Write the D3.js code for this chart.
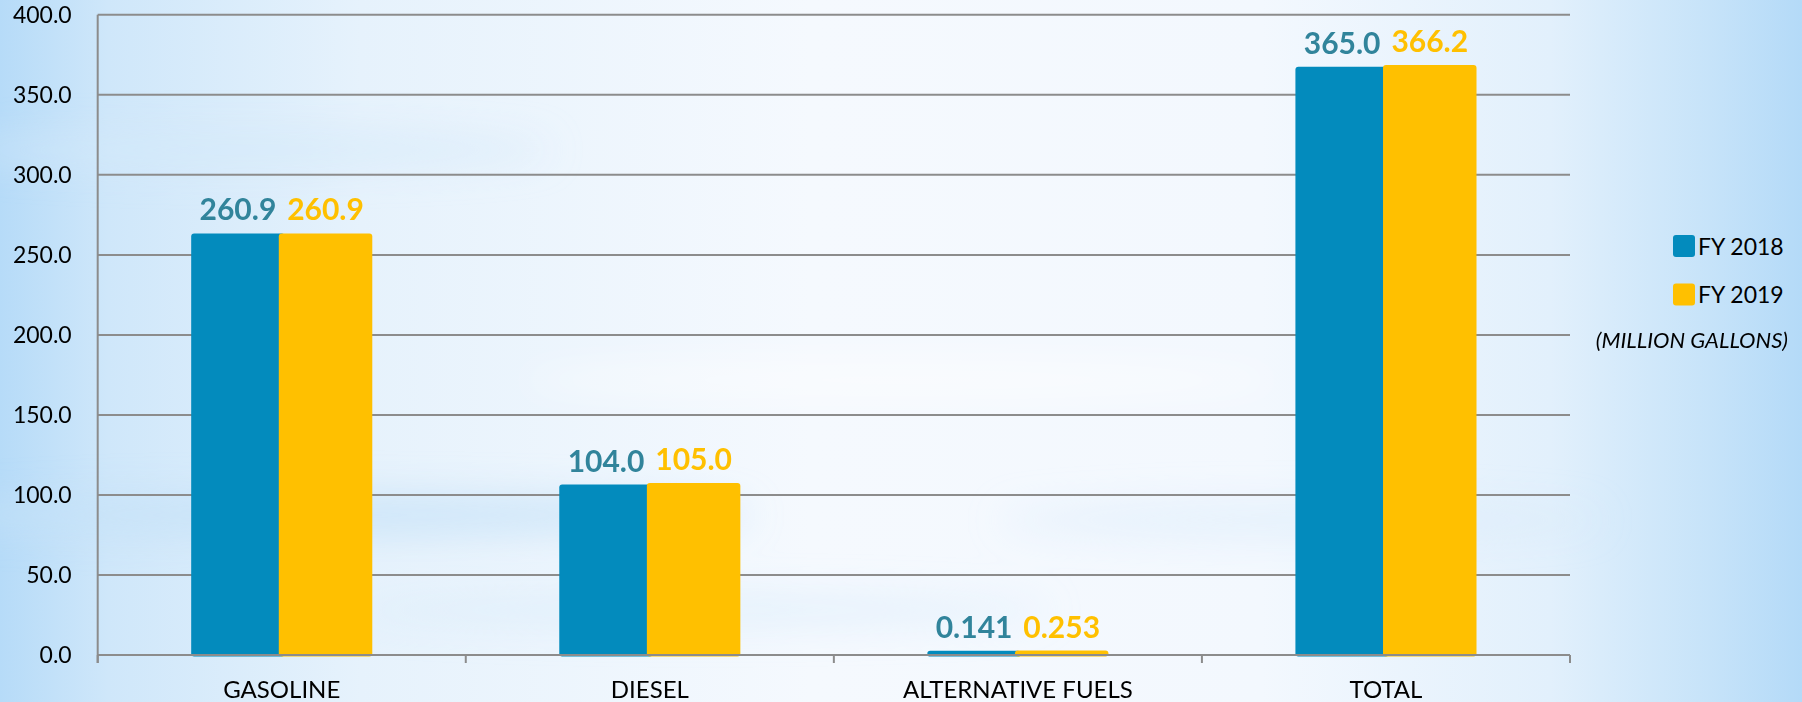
<!DOCTYPE html>
<html>
<head>
<meta charset="utf-8">
<script src="https://cdn.jsdelivr.net/npm/d3@7/dist/d3.min.js"></script>
<style>
  html, body { margin: 0; padding: 0; }
  body { width: 1802px; height: 702px; overflow: hidden; }
  text { font-family: Lato, "Open Sans", sans-serif; }
</style>
</head>
<body>
<svg id="chart" width="1802" height="702"></svg>
<script>
const categories = ["GASOLINE", "DIESEL", "ALTERNATIVE FUELS", "TOTAL"];
const seriesNames = ["FY 2018", "FY 2019"];
const fy2018 = [260.9, 104.0, 0.141, 365.0];
const fy2019 = [260.9, 105.0, 0.253, 366.2];
const yTickValues = [0, 50, 100, 150, 200, 250, 300, 350, 400];
const unitNote = "(MILLION GALLONS)";

const barColors = ["#038bbd", "#ffc000"];
const labelColors = ["#31849b", "#ffc000"];

const svg = d3.select("#chart");
const plot = {left: 97.7, right: 1570, top: 14.8, bottom: 655};

// background: pale blue, whiter toward the middle, with a few soft streaks
function addBackground() {
    const defs = svg.append("defs");
    const g = defs.append("linearGradient").attr("id", "bg").attr("x1", 0).attr("x2", 1).attr("y1", 0).attr("y2", 0);
    [[0, "#b6dbf8"], [0.06, "#cfe7fa"], [0.2, "#e6f2fc"], [0.45, "#f5f9fe"], [0.7, "#f3f8fe"],
     [0.86, "#e2f0fc"], [0.95, "#c6e3f9"], [1, "#b4daf8"]]
        .forEach(([o, c]) => g.append("stop").attr("offset", o).attr("stop-color", c));

    defs.append("filter").attr("id", "blur").attr("x", "-50%").attr("y", "-50%").attr("width", "200%").attr("height", "200%")
        .append("feGaussianBlur").attr("stdDeviation", 18);

    svg.append("rect").attr("width", 1802).attr("height", 702).attr("fill", "url(#bg)");

    const streaks = svg.append("g").attr("filter", "url(#blur)");
    [[330, 515, 420, 22, "#c4e1f8", 0.7], [250, 150, 300, 18, "#d3e9fa", 0.6],
     [900, 380, 380, 20, "#ffffff", 0.5], [1300, 520, 300, 18, "#d8ecfb", 0.5],
     [700, 610, 350, 16, "#d6ebfb", 0.5]]
        .forEach(([cx, cy, rx, ry, c, o]) => streaks.append("ellipse")
            .attr("cx", cx).attr("cy", cy).attr("rx", rx).attr("ry", ry)
            .attr("fill", c).attr("opacity", o));
}

addBackground();

const x0 = d3.scaleBand().domain(categories).range([plot.left, plot.right]).padding(0);
const y = d3.scaleLinear().domain([0, 400]).range([plot.bottom, plot.top]);

const barW = x0.bandwidth() * 0.254;
const overlap = x0.bandwidth() * 0.016;
const pairW = 2 * barW - overlap;
const bleed = 4;

function barX(cat, i) {
    const c = x0(cat) + x0.bandwidth() / 2;
    return c - pairW / 2 + i * (barW - overlap);
}

const fmt = (v) => v < 1 ? d3.format(".3f")(v) : d3.format(".1f")(v);

// gridlines
svg.append("g")
    .selectAll("line")
    .data(yTickValues.filter(d => d > 0))
    .enter().append("line")
        .attr("x1", plot.left)
        .attr("x2", plot.right)
        .attr("y1", d => y(d))
        .attr("y2", d => y(d))
        .attr("stroke", "#8c8c8c")
        .attr("stroke-width", 2);

// y axis labels
const yAxis = d3.axisLeft(y)
    .tickValues(yTickValues)
    .tickFormat(d3.format(".1f"))
    .tickSize(0)
    .tickPadding(26);

svg.append("g")
    .attr("transform", `translate(${plot.left}, 0)`)
    .call(yAxis)
    .call(g => g.select(".domain").remove())
    .call(g => g.selectAll("text")
        .attr("fill", "#000")
        .style("font-family", "Lato, sans-serif")
        .style("font-size", "23px"));

// bars
const series = [fy2018, fy2019];
series.forEach((vals, i) => {
    svg.append("g")
        .selectAll("rect")
        .data(vals)
        .enter().append("rect")
            .attr("x", (d, k) => barX(categories[k], i))
            .attr("y", d => y(d) - bleed)
            .attr("width", barW)
            .attr("height", d => y(0) - y(d) + bleed + 1.5)
            .attr("rx", 3)
            .attr("fill", barColors[i]);
});

// value labels
series.forEach((vals, i) => {
    svg.append("g")
        .selectAll("text")
        .data(vals)
        .enter().append("text")
            .attr("x", (d, k) => barX(categories[k], i) + barW / 2)
            .attr("y", d => y(d) - bleed - 13)
            .attr("text-anchor", "middle")
            .attr("fill", labelColors[i])
            .style("font-size", "30px")
            .style("font-weight", "bold")
            .text(d => fmt(d));
});

// x axis: baseline, category ticks, labels
const xAxis = d3.axisBottom(x0).tickSize(0).tickPadding(26);
const xg = svg.append("g")
    .attr("transform", `translate(0, ${y(0)})`)
    .call(xAxis);
xg.select(".domain").remove();
xg.selectAll("text")
    .attr("fill", "#000")
    .style("font-family", "Lato, sans-serif")
    .style("font-size", "24px");

const bounds = categories.map(c => x0(c)).concat([plot.right]);
xg.selectAll("line.sep")
    .data(bounds)
    .enter().append("line")
        .attr("class", "sep")
        .attr("x1", d => d).attr("x2", d => d)
        .attr("y1", 0).attr("y2", 8)
        .attr("stroke", "#8c8c8c")
        .attr("stroke-width", 2);

xg.append("line")
    .attr("x1", plot.left).attr("x2", plot.right)
    .attr("y1", 0).attr("y2", 0)
    .attr("stroke", "#8c8c8c")
    .attr("stroke-width", 2);

// left axis line
svg.append("line")
    .attr("x1", plot.left).attr("x2", plot.left)
    .attr("y1", plot.top).attr("y2", y(0) + 8)
    .attr("stroke", "#8c8c8c")
    .attr("stroke-width", 2);

// legend
const legend = svg.append("g").attr("transform", "translate(1673, 235)");
legend.selectAll("rect")
    .data(seriesNames)
    .enter().append("rect")
        .attr("x", 0)
        .attr("y", (_, i) => i * 48.4)
        .attr("width", 22)
        .attr("height", 22)
        .attr("rx", 3)
        .attr("fill", (_, i) => barColors[i]);

legend.selectAll("text")
    .data(seriesNames)
    .enter().append("text")
        .attr("x", 25)
        .attr("y", (_, i) => i * 48.4 + 19.5)
        .attr("fill", "#000")
        .style("font-size", "23px")
        .text(d => d);

svg.append("text")
    .attr("x", 1788)
    .attr("y", 348)
    .attr("text-anchor", "end")
    .attr("fill", "#000")
    .style("font-size", "22px")
    .style("font-style", "italic")
    .text(unitNote);
</script>
</body>
</html>
